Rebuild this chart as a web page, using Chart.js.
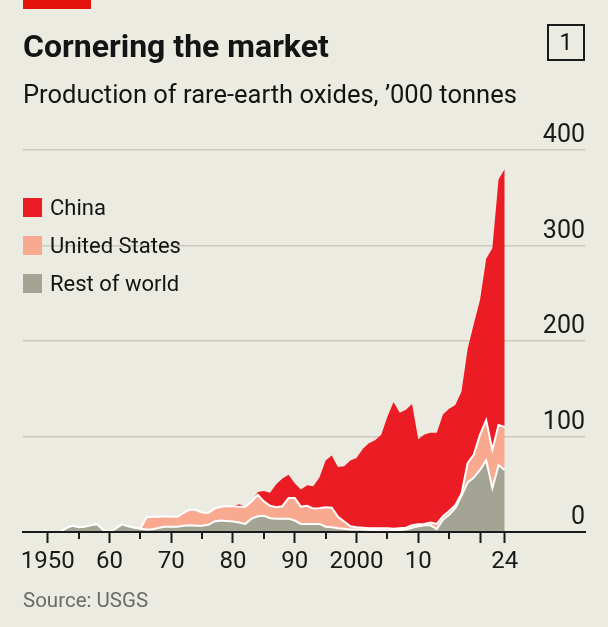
<!DOCTYPE html>
<html>
<head>
<meta charset="utf-8">
<script src="https://cdn.jsdelivr.net/npm/chart.js@4.4.1/dist/chart.umd.min.js"></script>
<style>
  html, body { margin: 0; padding: 0; }
  body { width: 608px; height: 627px; background: #ecebe1; position: relative; overflow: hidden; font-family: Roboto, "Noto Sans", sans-serif; color: #141414; }
  #chart { position: absolute; left: 0; top: 0; }
  .abs { position: absolute; white-space: nowrap; }
  #redbar { left: 23px; top: 0; width: 68px; height: 9px; background: #e3120b; }
  #title { left: 23px; top: 30px; font-size: 32px; line-height: 32px; font-weight: 700; }
  #subtitle { left: 23px; top: 82px; font-size: 25.5px; line-height: 25.5px; }
  #num { left: 547px; top: 24px; width: 34px; height: 33px; border: 2px solid #1a1a1a; font-size: 23px; line-height: 33px; text-align: center; }
  .sw { position: absolute; left: 23px; width: 19px; height: 19px; }
  .lt { position: absolute; left: 50px; font-size: 22px; line-height: 22px; }
  #source { left: 23px; top: 590px; font-size: 20.5px; line-height: 21px; color: #6b6b6b; }
</style>
</head>
<body>
<canvas id="chart" width="608" height="627"></canvas>
<div id="redbar" class="abs"></div>
<div id="title" class="abs">Cornering the market</div>
<div id="subtitle" class="abs">Production of rare-earth oxides, ’000 tonnes</div>
<div id="num" class="abs">1</div>
<div class="sw" style="top:198px;background:#ec1c24"></div>
<div class="lt" style="top:197px">China</div>
<div class="sw" style="top:236px;background:#f9a990"></div>
<div class="lt" style="top:235px">United States</div>
<div class="sw" style="top:274px;background:#a4a494"></div>
<div class="lt" style="top:273px">Rest of world</div>
<div id="source" class="abs">Source: USGS</div>

<script>
// years 1950-2024
const years = Array.from({ length: 75 }, (_, i) => 1950 + i);

// '000 tonnes
const restOfWorld = [
  0, 0, 0, 4, 6.5, 5, 5.5, 7, 8, 2,          // 1950s
  0, 3.5, 8, 6, 4.5, 3.5, 2.5, 3, 4.5, 5.5,  // 1960s
  5.5, 5.5, 6.5, 7, 6.5, 6.5, 7.5, 11, 12, 11.5, // 1970s
  11, 10, 8.5, 14, 16.5, 17, 14.5, 14, 14, 14,   // 1980s
  12, 8.5, 8.5, 8.5, 8.5, 5.5, 5, 4, 3.5, 2.5,   // 1990s
  2.5, 2.5, 2, 2, 1.5, 1.5, 1.5, 2, 2.5, 4.5,    // 2000s
  6, 7, 7, 3, 13, 18, 25, 38, 52, 57,            // 2010s
  65, 75, 46, 70, 65                             // 2020s
];

const unitedStates = [
  0, 0, 0, 0, 0, 0, 0, 0, 0, 0,
  0, 0, 0, 0, 0, 0, 13, 13, 11.5, 11,
  10.5, 10.5, 13.5, 16.5, 16.5, 14, 12.5, 13.5, 14.5, 15.5,
  16, 16.5, 18, 18, 22.5, 15, 13, 12, 13, 21.5,
  23.5, 18, 19, 16, 16.5, 20.5, 20.5, 12, 7.5, 3.5,
  2.5, 2, 2, 2, 2.3, 2.3, 2, 2, 2, 2.5,
  2, 1.5, 3, 5.5, 3.5, 4, 3, 2, 20, 24,
  37, 42, 40, 42, 45
];

const china = [
  0, 0, 0, 0, 0, 0, 0, 0, 0, 0,
  0, 0, 0, 0, 0, 0, 0, 0, 0, 0,
  0, 0, 0, 0, 0, 0, 0, 0, 0, 0,
  0, 2.5, 0, 0, 3, 11, 13.5, 24, 29, 24.5,
  15.5, 18, 21.5, 23.5, 32, 49, 54.5, 52, 57.8, 69,
  72.5, 82.5, 89, 92, 98, 117, 132.5, 121, 123.5, 127,
  89, 93.5, 94, 95.5, 106.5, 107, 105, 107, 120, 137,
  141, 169, 211, 257, 270
];

const majorTicks = [1950, 1960, 1970, 1980, 1990, 2000, 2010, 2020, 2024];
const minorTicks = [1955, 1965, 1975, 1985, 1995, 2005, 2015];
const tickLabels = { 1950: '1950', 1960: '60', 1970: '70', 1980: '80', 1990: '90', 2000: '2000', 2010: '10', 2024: '24' };
const yTicks = [0, 100, 200, 300, 400];

const pts = arr => years.map((yr, i) => ({ x: yr, y: arr[i] }));

const minorTickPlugin = {
  id: 'minorTickPlugin',
  afterDraw(chart) {
    const sx = chart.scales.x;
    const ctx = chart.ctx;
    ctx.save();
    ctx.strokeStyle = '#1a1a1a';
    ctx.lineWidth = 2;
    minorTicks.forEach(yr => {
      const px = Math.round(sx.getPixelForValue(yr));
      ctx.beginPath();
      ctx.moveTo(px, sx.top);
      ctx.lineTo(px, sx.top + 7);
      ctx.stroke();
    });
    ctx.restore();
  }
};

const ctx = document.getElementById('chart').getContext('2d');

new Chart(ctx, {
  type: 'line',
  data: {
    datasets: [
      {
        label: 'Rest of world',
        data: pts(restOfWorld),
        backgroundColor: '#a4a494',
        borderColor: '#ffffff',
        borderWidth: 2,
        fill: 'origin'
      },
      {
        label: 'United States',
        data: pts(unitedStates),
        backgroundColor: '#f9a990',
        borderColor: '#ffffff',
        borderWidth: 2,
        fill: '-1'
      },
      {
        label: 'China',
        data: pts(china),
        backgroundColor: '#ec1c24',
        borderColor: '#ec1c24',
        borderWidth: 0,
        fill: '-1'
      }
    ]
  },
  options: {
    responsive: false,
    animation: false,
    layout: { padding: { left: 23, right: 23, top: 150, bottom: 35 } },
    elements: { point: { radius: 0 }, line: { tension: 0 } },
    plugins: { legend: { display: false }, tooltip: { enabled: false } },
    scales: {
      x: {
        type: 'linear',
        min: 1946,
        max: 2037,
        afterFit: s => { s.height = 60; },
        afterBuildTicks: s => { s.ticks = majorTicks.map(v => ({ value: v })); },
        grid: {
          drawOnChartArea: false,
          drawTicks: true,
          tickLength: 11,
          tickWidth: 2,
          tickColor: '#1a1a1a',
          z: 1
        },
        border: { display: true, color: '#1a1a1a', width: 2, z: 1 },
        ticks: {
          padding: 7,
          maxRotation: 0,
          autoSkip: false,
          color: '#1a1a1a',
          font: { family: 'Roboto', size: 24, lineHeight: 1 },
          callback: v => tickLabels[v] || ''
        }
      },
      y: {
        position: 'right',
        stacked: true,
        min: 0,
        max: 400,
        afterFit: s => { s.width = 0; },
        afterBuildTicks: s => { s.ticks = yTicks.map(v => ({ value: v })); },
        grid: {
          drawTicks: false,
          lineWidth: 1.5,
          color: c => c.tick && c.tick.value === 0 ? 'rgba(0,0,0,0)' : '#c9c8bd'
        },
        border: { display: false },
        ticks: {
          mirror: true,
          padding: 0,
          labelOffset: -14,
          color: '#1a1a1a',
          font: { family: 'Roboto', size: 25, lineHeight: 1 },
          callback: v => String(v)
        }
      }
    }
  },
  plugins: [minorTickPlugin]
});
</script>
</body>
</html>
